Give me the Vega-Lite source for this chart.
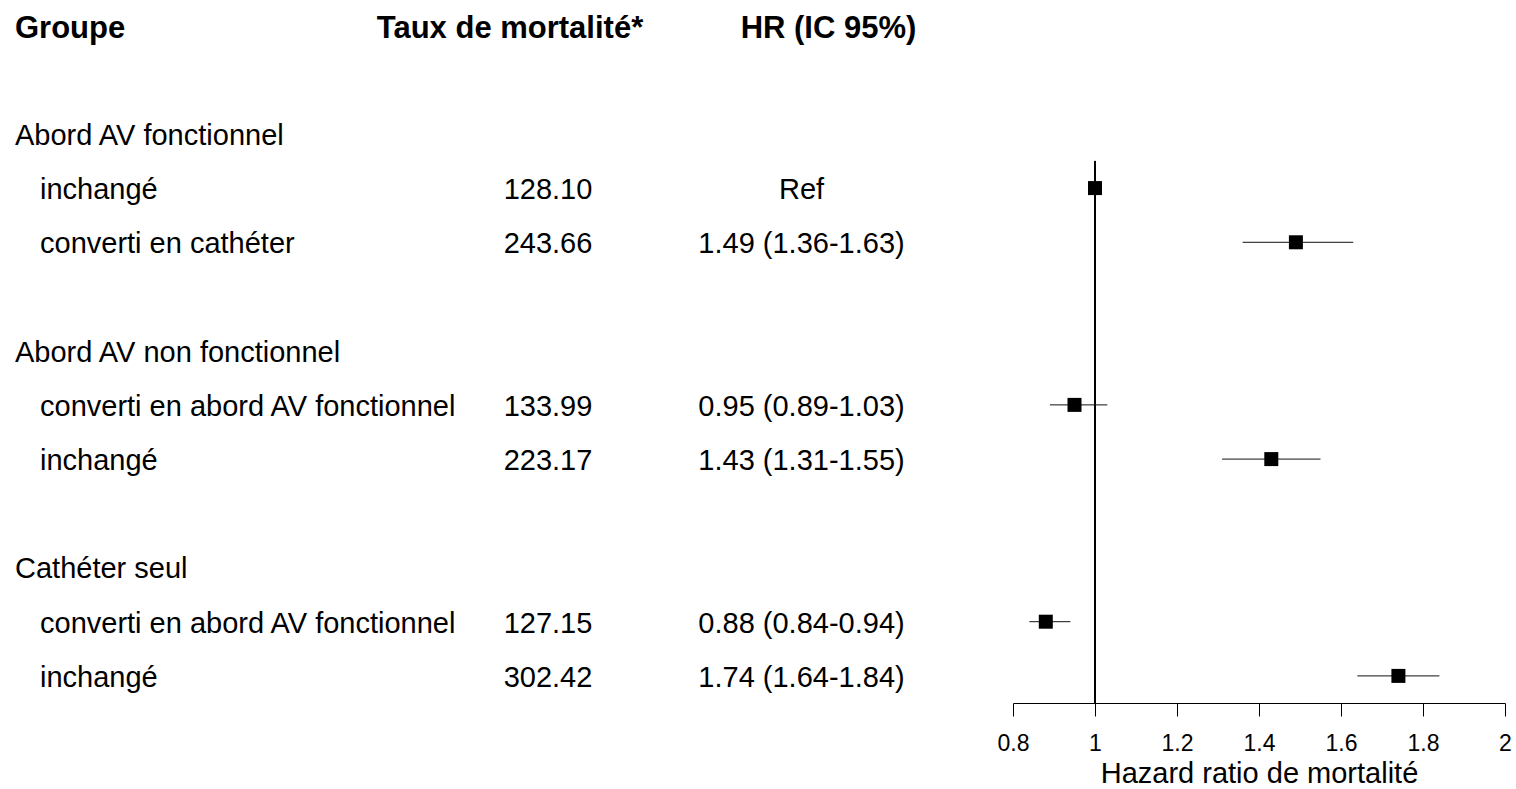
{
  "$schema": "https://vega.github.io/schema/vega-lite/v6.json",
  "padding": 0,
  "spacing": 0,
  "bounds": "flush",
  "config": {"view": {"stroke": null}, "font": "Liberation Sans", "text": {"color": "#000"}},
  "datasets": {
    "lignes": [
      {"row": 2, "niveau": 0, "libelle": "Abord AV fonctionnel"},
      {"row": 3, "niveau": 1, "libelle": "inchangé", "taux": "128.10", "hr_txt": "Ref", "hr": 1},
      {"row": 4, "niveau": 1, "libelle": "converti en cathéter", "taux": "243.66", "hr_txt": "1.49 (1.36-1.63)", "hr": 1.49, "lo": 1.36, "hi": 1.63},
      {"row": 6, "niveau": 0, "libelle": "Abord AV non fonctionnel"},
      {"row": 7, "niveau": 1, "libelle": "converti en abord AV fonctionnel", "taux": "133.99", "hr_txt": "0.95 (0.89-1.03)", "hr": 0.95, "lo": 0.89, "hi": 1.03},
      {"row": 8, "niveau": 1, "libelle": "inchangé", "taux": "223.17", "hr_txt": "1.43 (1.31-1.55)", "hr": 1.43, "lo": 1.31, "hi": 1.55},
      {"row": 10, "niveau": 0, "libelle": "Cathéter seul"},
      {"row": 11, "niveau": 1, "libelle": "converti en abord AV fonctionnel", "taux": "127.15", "hr_txt": "0.88 (0.84-0.94)", "hr": 0.88, "lo": 0.84, "hi": 0.94},
      {"row": 12, "niveau": 1, "libelle": "inchangé", "taux": "302.42", "hr_txt": "1.74 (1.64-1.84)", "hr": 1.74, "lo": 1.64, "hi": 1.84}
    ],
    "entetes": [
      {"row": 0, "colonne": "groupe", "titre": "Groupe"},
      {"row": 0, "colonne": "taux", "titre": "Taux de mortalité*"},
      {"row": 0, "colonne": "hr", "titre": "HR (IC 95%)"}
    ]
  },
  "hconcat": [
    {
      "width": 470,
      "height": 703,
      "layer": [
        {
          "data": {"name": "entetes"},
          "transform": [{"filter": "datum.colonne == 'groupe'"}],
          "mark": {"type": "text", "align": "left", "baseline": "middle", "fontSize": 31, "fontWeight": "bold", "dy": 4},
          "encoding": {
            "x": {"datum": 0, "type": "quantitative", "scale": {"domain": [0, 1], "range": [15, 40], "nice": false, "zero": false}, "axis": null},
            "y": {"field": "row", "type": "quantitative", "scale": {"domain": [-0.47, 12.5], "reverse": true, "nice": false, "zero": false}, "axis": null},
            "text": {"field": "titre"}
          }
        },
        {
          "data": {"name": "lignes"},
          "mark": {"type": "text", "align": "left", "baseline": "middle", "fontSize": 29, "dy": 2},
          "encoding": {
            "x": {"field": "niveau", "type": "quantitative", "axis": null},
            "y": {"field": "row", "type": "quantitative", "axis": null},
            "text": {"field": "libelle"}
          }
        }
      ]
    },
    {
      "width": 160,
      "height": 703,
      "layer": [
        {
          "data": {"name": "entetes"},
          "transform": [{"filter": "datum.colonne == 'taux'"}],
          "mark": {"type": "text", "align": "center", "baseline": "middle", "fontSize": 31, "fontWeight": "bold", "dx": -40, "dy": 4},
          "encoding": {
            "y": {"field": "row", "type": "quantitative", "scale": {"domain": [-0.47, 12.5], "reverse": true, "nice": false, "zero": false}, "axis": null},
            "text": {"field": "titre"}
          }
        },
        {
          "data": {"name": "lignes"},
          "transform": [{"filter": "isValid(datum.taux)"}],
          "mark": {"type": "text", "align": "center", "baseline": "middle", "fontSize": 29, "dx": -2, "dy": 2},
          "encoding": {
            "y": {"field": "row", "type": "quantitative", "axis": null},
            "text": {"field": "taux"}
          }
        }
      ]
    },
    {
      "width": 383,
      "height": 703,
      "layer": [
        {
          "data": {"name": "entetes"},
          "transform": [{"filter": "datum.colonne == 'hr'"}],
          "mark": {"type": "text", "align": "center", "baseline": "middle", "fontSize": 31, "fontWeight": "bold", "dx": 7, "dy": 4},
          "encoding": {
            "y": {"field": "row", "type": "quantitative", "scale": {"domain": [-0.47, 12.5], "reverse": true, "nice": false, "zero": false}, "axis": null},
            "text": {"field": "titre"}
          }
        },
        {
          "data": {"name": "lignes"},
          "transform": [{"filter": "isValid(datum.hr_txt)"}],
          "mark": {"type": "text", "align": "center", "baseline": "middle", "fontSize": 29, "dx": -20, "dy": 2},
          "encoding": {
            "y": {"field": "row", "type": "quantitative", "axis": null},
            "text": {"field": "hr_txt"}
          }
        }
      ]
    },
    {
      "width": 492,
      "height": 703,
      "data": {"name": "lignes"},
      "layer": [
        {
          "mark": {"type": "rule", "color": "#000", "strokeWidth": 1},
          "encoding": {
            "x": {"datum": 1, "type": "quantitative", "scale": {"domain": [0.8, 2], "nice": false, "zero": false}},
            "y": {"datum": 2.5, "type": "quantitative", "scale": {"domain": [-0.47, 12.5], "reverse": true, "nice": false, "zero": false}, "axis": null},
            "y2": {"datum": 12.5}
          }
        },
        {
          "transform": [{"filter": "isValid(datum.lo)"}],
          "mark": {"type": "rule", "color": "#111", "strokeWidth": 1},
          "encoding": {
            "x": {"field": "lo", "type": "quantitative"},
            "x2": {"field": "hi"},
            "y": {"field": "row", "type": "quantitative", "axis": null}
          }
        },
        {
          "transform": [{"filter": "isValid(datum.hr)"}],
          "mark": {"type": "point", "shape": "square", "filled": true, "size": 196, "color": "#000", "opacity": 1},
          "encoding": {
            "x": {
              "field": "hr",
              "type": "quantitative",
              "axis": {
                "values": [0.8, 1, 1.2, 1.4, 1.6, 1.8, 2],
                "format": "~g",
                "title": "Hazard ratio de mortalité",
                "grid": false,
                "domainColor": "#000",
                "domainWidth": 1,
                "tickColor": "#000",
                "tickWidth": 1,
                "tickSize": 13,
                "labelFontSize": 23,
                "labelColor": "#000",
                "labelPadding": 16,
                "labelFlush": false,
                "titleFontSize": 29,
                "titleFontWeight": "normal",
                "titleColor": "#000",
                "titlePadding": 4
              }
            },
            "y": {"field": "row", "type": "quantitative", "axis": null}
          }
        }
      ]
    }
  ]
}
